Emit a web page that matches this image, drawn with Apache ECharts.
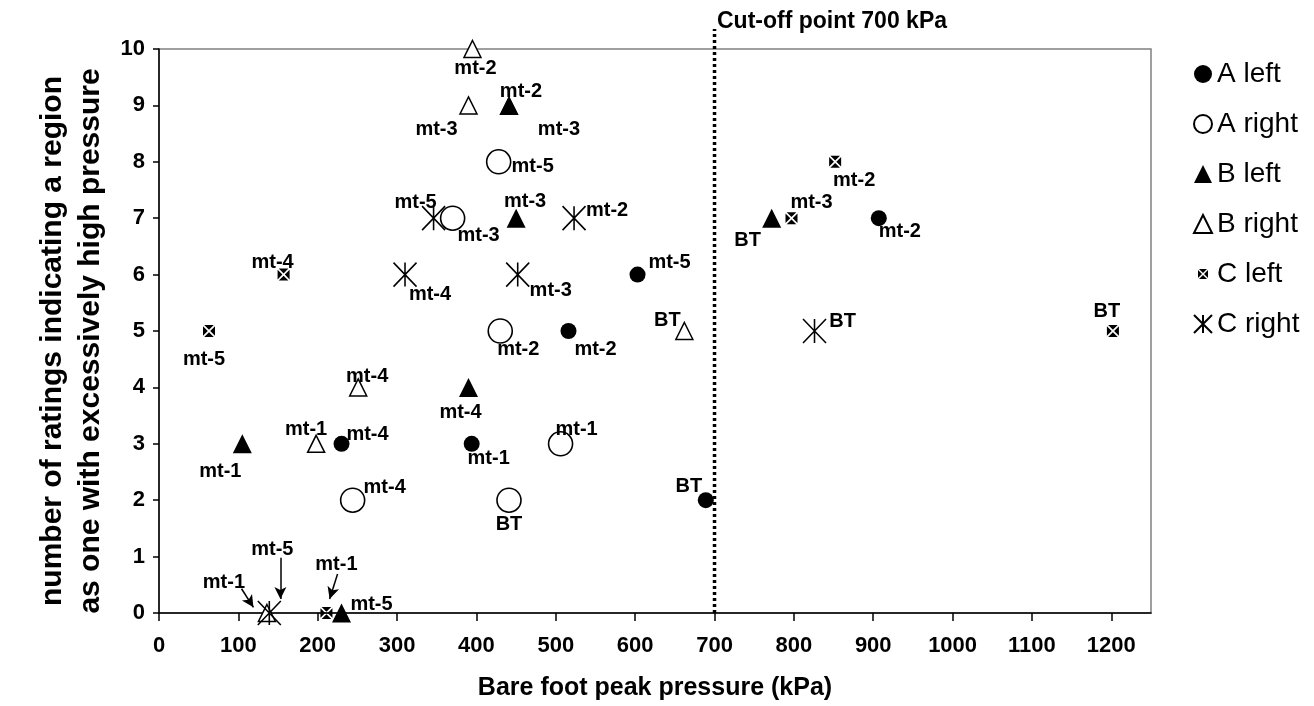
<!DOCTYPE html>
<html>
<head>
<meta charset="utf-8">
<title>Bare foot peak pressure vs ratings</title>
<script src="https://cdn.jsdelivr.net/npm/echarts@6/dist/echarts.min.js"></script>
<style>
  html, body { margin: 0; padding: 0; background: #fff; }
  #chart { width: 1314px; height: 706px; }
</style>
</head>
<body>
<div id="chart"></div>
<script>
// axis ticks
const xTickLabels = [0, 100, 200, 300, 400, 500, 600, 700, 800, 900, 1000, 1100, 1200]
const yTickLabels = [0, 1, 2, 3, 4, 5, 6, 7, 8, 9, 10]
const cutOff = 700

// A left
const aLeftPressure = [230, 394, 516, 603, 689, 907]
const aLeftRatings = [3, 3, 5, 6, 2, 7]
const aLeftTags = ['mt-4', 'mt-1', 'mt-2', 'mt-5', 'BT', 'mt-2']
// A right
const aRightPressure = [244, 370, 428, 430, 506, 441]
const aRightRatings = [2, 7, 8, 5, 3, 2]
const aRightTags = ['mt-4', 'mt-3', 'mt-5', 'mt-2', 'mt-1', 'BT']
// B left (last one is the second "mt-3" tag printed beside the mt-2 point)
const bLeftPressure = [105, 230, 390, 441, 450, 772, 441]
const bLeftRatings = [3, 0, 4, 9, 7, 7, 9]
const bLeftTags = ['mt-1', 'mt-5', 'mt-4', 'mt-2', 'mt-3', 'BT', 'mt-3']
// B right
const bRightPressure = [136, 198, 251, 390, 395, 662]
const bRightRatings = [0, 3, 4, 9, 10, 5]
const bRightTags = ['mt-1', 'mt-1', 'mt-4', 'mt-3', 'mt-2', 'BT']
// C left
const cLeftPressure = [63, 157, 211, 797, 852, 1202]
const cLeftRatings = [5, 6, 0, 7, 8, 5]
const cLeftTags = ['mt-5', 'mt-4', 'mt-1', 'mt-3', 'mt-2', 'BT']
// C right
const cRightPressure = [139, 346, 310, 452, 523, 826]
const cRightRatings = [0, 7, 6, 6, 7, 5]
const cRightTags = ['mt-5', 'mt-5', 'mt-4', 'mt-3', 'mt-2', 'BT']

// arrows pointing at the crowded points near 0 (data units)
const arrowFrom = [[104, 0.43], [225, 0.69], [153, 0.98]]
const arrowTo = [[119, 0.1], [215, 0.25], [153, 0.25]]

// label offsets in px (style, not data)
const aLeftOffsets = [[26, -9], [17, 15], [27, 18], [32, -12], [-17, -14], [21, 13]]
const aRightOffsets = [[32, -13], [26, 17], [34, 5], [18, 18], [16, -14], [0, 24]]
const bLeftOffsets = [[-22, 28], [30, -9], [-8, 25], [12, -14], [9, -17], [-24, 22], [50, 24]]
const bRightOffsets = [[-43, -31], [-10, -14], [9, -11], [-32, 24], [3, 19], [-17, -11]]
const cLeftOffsets = [[-5, 28], [-11, -12], [10, -49], [20, -16], [19, 19], [-6, -20]]
const cRightOffsets = [[3, -64], [-18, -16], [25, 20], [33, 16], [33, -8], [28, -10]]

const FONT = 'Arial, "Liberation Sans", Helvetica, sans-serif'

// 黑色方块中间留白色叉
const boxCross = 'path://M1,0L9,0L5,4ZM1,10L9,10L5,6ZM0,1L0,9L4,5ZM10,1L10,9L6,5Z'
const boxCrossSmall = 'path://M-4,-4M14,14M1,0L9,0L5,4ZM1,10L9,10L5,6ZM0,1L0,9L4,5ZM10,1L10,9L6,5Z'
const asterisk = 'path://M0,0L24,24M24,0L0,24M12,0L12,24'

function points(xs, ys, tags, offsets) {
  return xs.map((x, i) => ({
    value: [x, ys[i]],
    name: tags[i],
    label: { offset: offsets[i] },
  }))
}

const pointLabel = {
  show: true,
  position: 'inside',
  formatter: '{b}',
  color: '#000',
  fontFamily: FONT,
  fontWeight: 'bold',
  fontSize: 20,
  align: 'center',
  verticalAlign: 'middle',
}

function scatter(name, data, symbol, size, itemStyle) {
  return {
    name,
    type: 'scatter',
    data,
    symbol,
    symbolSize: size,
    itemStyle: Object.assign({ opacity: 1 }, itemStyle),
    label: pointLabel,
    emphasis: { disabled: true },
    z: 3,
  }
}

const chart = echarts.init(document.getElementById('chart'), null, { renderer: 'canvas' })

chart.setOption({
  animation: false,
  backgroundColor: '#fff',
  title: {
    text: 'Cut-off point ' + cutOff + ' kPa',
    left: 717,
    top: 10,
    padding: 0,
    textStyle: { fontFamily: FONT, fontSize: 23, fontWeight: 'bold', color: '#000' },
  },
  grid: {
    left: 159,
    right: 163,
    top: 49,
    bottom: 89,
    show: true,
    borderColor: '#808080',
    borderWidth: 1.5,
  },
  legend: {
    orient: 'vertical',
    left: 1188,
    top: 54,
    itemWidth: 18,
    itemHeight: 18,
    itemGap: 20,
    itemSymbolKeepAspect: true,
    textStyle: { fontFamily: FONT, fontSize: 28, color: '#000', lineHeight: 30 },
    itemTextGap: 6,
    data: [
      { name: 'A left', icon: 'circle' },
      { name: 'A right', icon: 'circle' },
      { name: 'B left', icon: 'triangle' },
      { name: 'B right', icon: 'triangle' },
      { name: 'C left', icon: boxCrossSmall },
      { name: 'C right', icon: asterisk },
    ],
  },
  xAxis: {
    type: 'value',
    min: 0,
    max: 1250,
    interval: 100,
    name: 'Bare foot peak pressure (kPa)',
    nameLocation: 'middle',
    nameGap: 63,
    nameTextStyle: { fontFamily: FONT, fontSize: 25, fontWeight: 'bold', color: '#000' },
    axisLine: { show: true, lineStyle: { color: '#000', width: 1.5 } },
    axisTick: { show: true, length: 8, lineStyle: { color: '#000', width: 1.5 }, customValues: xTickLabels },
    axisLabel: {
      customValues: xTickLabels,
      formatter: (v) => String(v),
      margin: 22,
      color: '#000',
      fontFamily: FONT,
      fontSize: 22,
      fontWeight: 'bold',
    },
    splitLine: { show: false },
  },
  yAxis: {
    type: 'value',
    min: 0,
    max: 10,
    interval: 1,
    name: 'number of ratings indicating a region\nas one with excessively high pressure',
    nameLocation: 'middle',
    nameGap: 38,
    nameTextStyle: {
      fontFamily: FONT,
      fontSize: 30,
      fontWeight: 'bold',
      color: '#000',
      lineHeight: 38,
      padding: [0, 20, 0, 0],
    },
    axisLine: { show: true, lineStyle: { color: '#000', width: 1.5 } },
    axisTick: { show: true, length: 6, lineStyle: { color: '#000', width: 1.5 }, customValues: yTickLabels },
    axisLabel: {
      customValues: yTickLabels,
      margin: 14,
      color: '#000',
      fontFamily: FONT,
      fontSize: 22,
      fontWeight: 'bold',
    },
    splitLine: { show: false },
  },
  series: [
    scatter('A left', points(aLeftPressure, aLeftRatings, aLeftTags, aLeftOffsets), 'circle', 16,
      { color: '#000' }),
    scatter('A right', points(aRightPressure, aRightRatings, aRightTags, aRightOffsets), 'circle', 24,
      { color: '#fff', borderColor: '#000', borderWidth: 1.6 }),
    scatter('B left', points(bLeftPressure, bLeftRatings, bLeftTags, bLeftOffsets), 'triangle', 19,
      { color: '#000' }),
    scatter('B right', points(bRightPressure, bRightRatings, bRightTags, bRightOffsets), 'triangle', 17,
      { color: '#fff', borderColor: '#000', borderWidth: 1.5 }),
    scatter('C left', points(cLeftPressure, cLeftRatings, cLeftTags, cLeftOffsets), boxCross, 12,
      { color: '#000' }),
    scatter('C right', points(cRightPressure, cRightRatings, cRightTags, cRightOffsets), asterisk, [23, 24],
      { color: '#000', borderColor: '#000', borderWidth: 1.6 }),
    // arrows
    {
      name: 'arrows',
      type: 'scatter',
      data: [],
      clip: false,
      markLine: {
        silent: true,
        symbol: ['none', 'arrow'],
        symbolSize: [9, 12],
        label: { show: false },
        lineStyle: { color: '#000', type: 'solid', width: 1.5, opacity: 1 },
        data: arrowFrom.map((p, i) => [{ coord: p }, { coord: arrowTo[i] }]),
      },
    },
  ],
})

// 截止线：从 x 轴一直画到标题下方（比绘图区略高）
const cutX = chart.convertToPixel({ xAxisIndex: 0 }, cutOff)
const cutBottom = chart.convertToPixel({ yAxisIndex: 0 }, 0)
chart.setOption({
  graphic: [
    {
      type: 'line',
      silent: true,
      z: 10,
      shape: { x1: cutX, y1: cutBottom, x2: cutX, y2: 29 },
      style: { stroke: '#000', lineWidth: 3.5, lineDash: [3, 3] },
    },
  ],
})
</script>
</body>
</html>
